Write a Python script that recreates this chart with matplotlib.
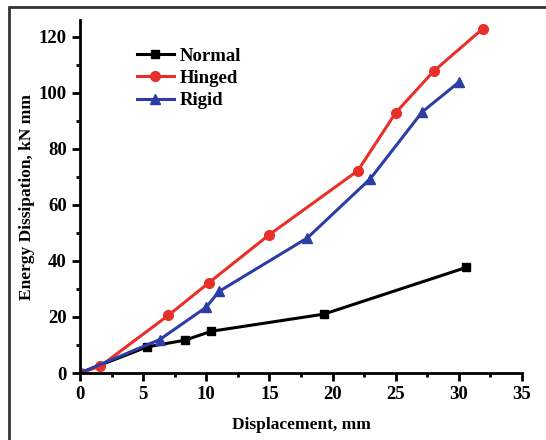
import matplotlib
matplotlib.use('Agg')
import matplotlib.pyplot as plt
from matplotlib.patches import Rectangle
from matplotlib.ticker import MultipleLocator

# values
normal_x = [0, 5.3, 8.3, 10.4, 19.3, 30.6]
normal_y = [0, 9.3, 11.7, 14.9, 21.0, 37.7]

hinged_x = [0, 1.6, 7.0, 10.2, 15.0, 22.0, 25.0, 28.0, 31.9]
hinged_y = [0, 2.4, 20.6, 32.2, 49.4, 72.2, 92.9, 107.7, 122.9]

rigid_x = [0, 6.3, 10.0, 11.0, 18.0, 23.0, 27.1, 30.0]
rigid_y = [0, 11.9, 23.5, 29.1, 48.2, 69.4, 93.2, 103.8]

plt.rcParams['font.family'] = ['Liberation Serif', 'DejaVu Serif']
plt.rcParams['font.weight'] = 'bold'

fig = plt.figure(figsize=(5.46, 4.40), dpi=100)
ax = fig.add_axes([80 / 546, 1 - 373 / 440, (522 - 80) / 546, (373 - 20) / 440])

ax.plot(normal_x, normal_y, color='black', lw=2.2, marker='s', ms=6, label='Normal')
ax.plot(hinged_x, hinged_y, color='#e8302a', lw=2.2, marker='o', ms=7, label='Hinged')
ax.plot(rigid_x, rigid_y, color='#2c3ea6', lw=2.2, marker='^', ms=7, label='Rigid')

ax.set_xlim(0, 35)
ax.set_ylim(0, 126)
ax.xaxis.set_major_locator(MultipleLocator(5))
ax.xaxis.set_minor_locator(MultipleLocator(2.5))
ax.yaxis.set_major_locator(MultipleLocator(20))
ax.yaxis.set_minor_locator(MultipleLocator(10))

for s in ['top', 'right']:
    ax.spines[s].set_visible(False)
for s in ['left', 'bottom']:
    ax.spines[s].set_linewidth(2)
ax.tick_params(which='major', direction='out', length=6, width=2, labelsize=13.5)
ax.tick_params(which='minor', direction='out', length=3, width=2)
for lab in ax.get_xticklabels() + ax.get_yticklabels():
    lab.set_fontweight('bold')

ax.set_xlabel('Displacement, mm', fontsize=12.5, fontweight='bold', labelpad=10)
ax.set_ylabel('Energy Dissipation, kN mm', fontsize=12.5, fontweight='bold', labelpad=3)

leg = ax.legend(loc='upper left', bbox_to_anchor=(0.09, 0.97), frameon=False,
                handlelength=2.0, handletextpad=0.3, labelspacing=0.28,
                prop={'weight': 'bold', 'size': 13.5})

# outer frame around the figure
fig.patches.append(Rectangle((9 / 546, -0.05), 1.1, 1 - 7 / 440 + 0.05,
                             transform=fig.transFigure, fill=False,
                             edgecolor='#333333', lw=2))

fig.savefig('out.png', dpi=100)
